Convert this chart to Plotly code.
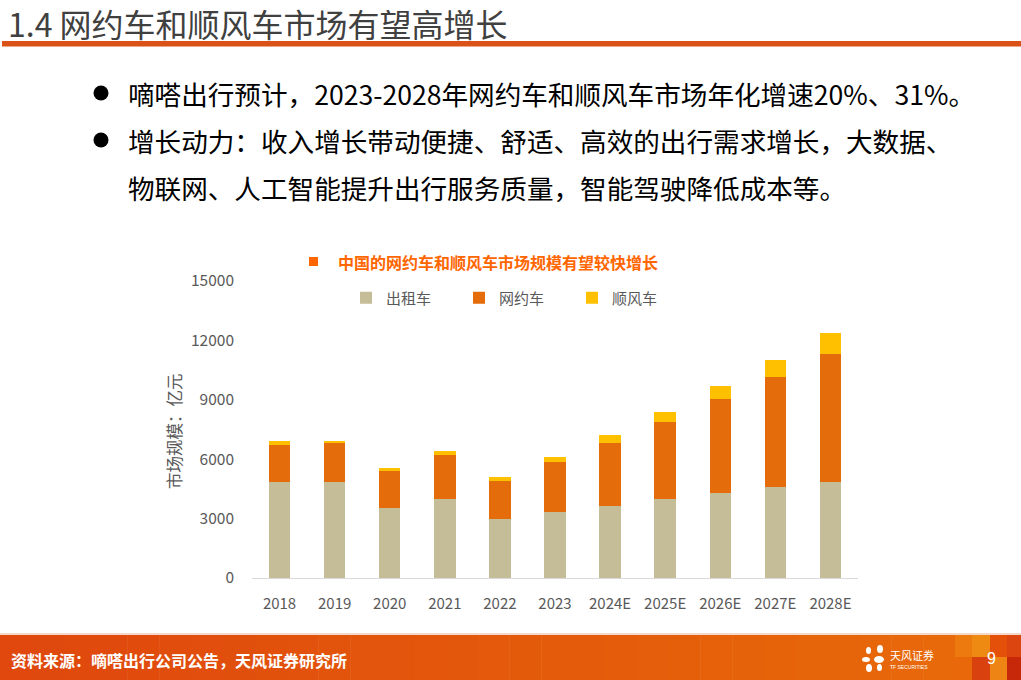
import plotly.graph_objects as go

# ---------------- data ----------------
categories = ["2018", "2019", "2020", "2021", "2022", "2023",
              "2024E", "2025E", "2026E", "2027E", "2028E"]
taxi = [4850, 4850, 3540, 4000, 2980, 3340, 3640, 3990, 4300, 4600, 4850]
ride_hailing = [1875, 1975, 1870, 2220, 1920, 2530, 3190, 3900, 4750, 5560, 6480]
hitch = [200, 100, 150, 200, 200, 250, 400, 500, 660, 860, 1060]
series_names = ["出租车", "网约车", "顺风车"]
series_colors = ["#C4BD97", "#E46C0A", "#FFC000"]
y_ticks = [0, 3000, 6000, 9000, 12000, 15000]
y_tick_text = ["0", "3000", "6000", "9000", "12000", "15000"]

page_title = "1.4 网约车和顺风车市场有望高增长"
bullets = [
    "嘀嗒出行预计，2023-2028年网约车和顺风车市场年化增速20%、31%。",
    "增长动力：收入增长带动便捷、舒适、高效的出行需求增长，大数据、",
    "物联网、人工智能提升出行服务质量，智能驾驶降低成本等。",
]
chart_title = "中国的网约车和顺风车市场规模有望较快增长"
y_title = "市场规模：亿元"
source = "资料来源：嘀嗒出行公司公告，天风证券研究所"

# ---------------- layout geometry ----------------
W, H = 1021, 680
PL, PR, PT, PB = 252, 858, 281, 578
FONT = "Noto Sans CJK SC"


def px(X):
    return (X - PL) / (PR - PL)


def py(Y):
    return (PB - Y) / (PB - PT)


fig = go.Figure()
for name, vals, col in zip(series_names, [taxi, ride_hailing, hitch], series_colors):
    fig.add_trace(go.Bar(x=categories, y=vals, name=name, marker_color=col,
                         marker_line_width=0))

shapes = []
annotations = []

# page title + rule
annotations.append(dict(text=page_title, x=px(6), y=py(23), xref="paper", yref="paper",
                        xanchor="left", yanchor="middle", showarrow=False,
                        font=dict(family=FONT, size=32, color="#404040")))
shapes.append(dict(type="rect", xref="paper", yref="paper", x0=px(2), x1=px(1021),
                   y0=py(41), y1=py(46.5), fillcolor="#DA5217", line_width=0, layer="above"))

# bullets
bullet_y = [93, 140, 187]
for i, (t, yy) in enumerate(zip(bullets, bullet_y)):
    annotations.append(dict(text=t, x=px(126), y=py(yy), xref="paper", yref="paper",
                            xanchor="left", yanchor="middle", showarrow=False,
                            font=dict(family=FONT, size=26.6, color="#000000")))
    if i < 2:
        shapes.append(dict(type="circle", xref="paper", yref="paper",
                           x0=px(93.5), x1=px(108.5), y0=py(yy - 7.5), y1=py(yy + 7.5),
                           fillcolor="#000000", line_width=0))

# chart title with square marker
shapes.append(dict(type="rect", xref="paper", yref="paper", x0=px(309), x1=px(318),
                   y0=py(257), y1=py(266), fillcolor="#FF6600", line_width=0))
annotations.append(dict(text="<b>" + chart_title + "</b>", x=px(336), y=py(262),
                        xref="paper", yref="paper", xanchor="left", yanchor="middle",
                        showarrow=False, font=dict(family=FONT, size=16, color="#FF6600")))

# y axis title
annotations.append(dict(text=y_title, x=px(174), y=py(431), xref="paper", yref="paper",
                        xanchor="center", yanchor="middle", textangle=-90, showarrow=False,
                        font=dict(family=FONT, size=16.5, color="#595959")))

# footer band (approximate gradient)
n = 30
c0 = (224, 72, 14)
c1 = (232, 105, 10)
for i in range(n):
    x0 = i * 955 / n
    x1 = (i + 1) * 955 / n + 0.5
    f = i / (n - 1)
    col = "rgb(%d,%d,%d)" % tuple(int(a + (b - a) * f) for a, b in zip(c0, c1))
    shapes.append(dict(type="rect", xref="paper", yref="paper", x0=px(x0), x1=px(x1),
                       y0=py(635), y1=py(680), fillcolor=col, line_width=0))
shapes.append(dict(type="rect", xref="paper", yref="paper", x0=px(0), x1=px(1021),
                   y0=py(633), y1=py(635), fillcolor="#F3D9CC", line_width=0))
# right-end squares
blocks = [
    (955, 972, 635, 657, "#EC7A0E"), (972, 990, 635, 657, "#EE8A12"),
    (990, 1007, 635, 657, "#E4500A"), (1007, 1021, 635, 657, "#DC4410"),
    (955, 972, 657, 680, "#E8680A"), (972, 990, 657, 680, "#D9420E"),
    (990, 1007, 657, 680, "#EE8414"), (1007, 1021, 657, 680, "#C8280A"),
]
for x0, x1, y0, y1, col in blocks:
    shapes.append(dict(type="rect", xref="paper", yref="paper", x0=px(x0), x1=px(x1),
                       y0=py(y0), y1=py(y1), fillcolor=col, line_width=0))

annotations.append(dict(text="<b>" + source + "</b>", x=px(9), y=py(660), xref="paper",
                        yref="paper", xanchor="left", yanchor="middle", showarrow=False,
                        font=dict(family=FONT, size=16, color="#FFFFFF")))
annotations.append(dict(text="9", x=px(991), y=py(658), xref="paper", yref="paper",
                        xanchor="center", yanchor="middle", showarrow=False,
                        font=dict(family="Liberation Sans", size=16, color="#FFFFFF")))
# logo
annotations.append(dict(text="天风证券", x=px(888), y=py(655), xref="paper", yref="paper",
                        xanchor="left", yanchor="middle", showarrow=False,
                        font=dict(family=FONT, size=11, color="#FFFFFF")))
annotations.append(dict(text="TF SECURITIES", x=px(888), y=py(667), xref="paper",
                        yref="paper", xanchor="left", yanchor="middle", showarrow=False,
                        font=dict(family="Liberation Sans", size=5, color="#FFFFFF")))
petals = [(866, 647, 871, 654), (877, 645, 883, 653), (862, 657, 870, 662),
          (874, 656, 884, 663), (866, 664, 872, 672), (877, 664, 882, 671)]
for x0, y0, x1, y1 in petals:
    shapes.append(dict(type="circle", xref="paper", yref="paper", x0=px(x0), x1=px(x1),
                       y0=py(y1), y1=py(y0), fillcolor="#FFFFFF", line_width=0))

fig.update_layout(
    width=W, height=H, autosize=False,
    margin=dict(l=PL, r=W - PR, t=PT, b=H - PB, pad=0),
    paper_bgcolor="#FFFFFF", plot_bgcolor="#FFFFFF",
    barmode="stack", bargap=0.61,
    font=dict(family=FONT, color="#595959"),
    showlegend=True,
    legend=dict(orientation="h", x=px(346), y=py(298), xanchor="left", yanchor="middle",
                font=dict(family=FONT, size=15, color="#595959"),
                itemwidth=30, entrywidth=68, entrywidthmode="pixels",
                bgcolor="rgba(0,0,0,0)", traceorder="normal"),
    xaxis=dict(type="category", showgrid=False, showline=True, linecolor="#D9D9D9",
               linewidth=1, ticks="", tickfont=dict(size=15, color="#595959"),
               ticklabelstandoff=12, fixedrange=True),
    yaxis=dict(range=[0, 15000], tickvals=y_ticks, ticktext=y_tick_text, showgrid=False,
               zeroline=False, showline=False, ticks="",
               tickfont=dict(size=15.5, color="#595959"),
               ticklabelstandoff=17, fixedrange=True),
    shapes=shapes, annotations=annotations,
)

fig.write_html("out.html")
